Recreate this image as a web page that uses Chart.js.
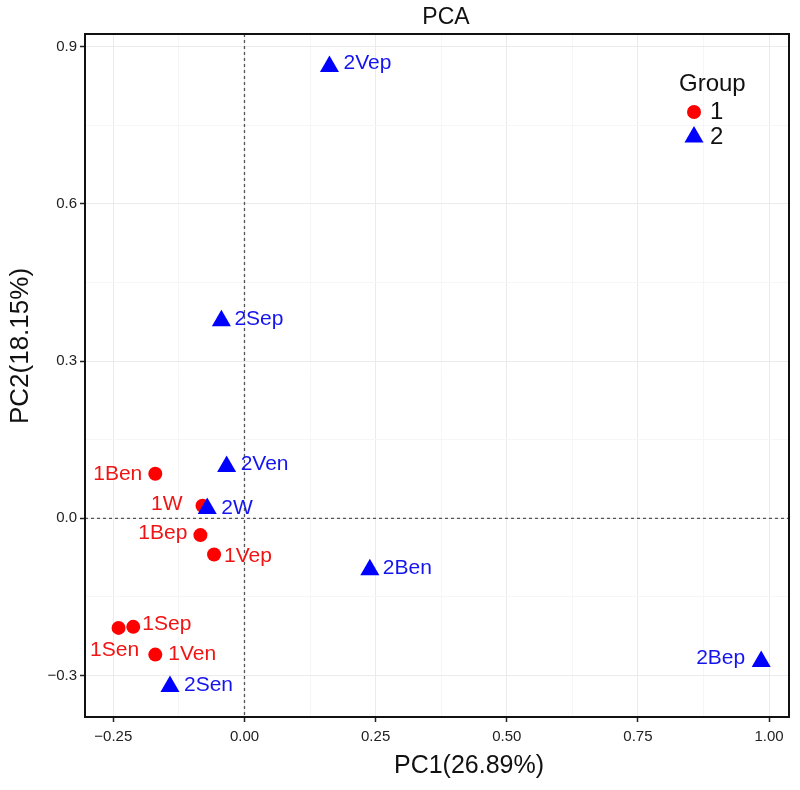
<!DOCTYPE html>
<html>
<head>
<meta charset="utf-8">
<script src="https://cdn.jsdelivr.net/npm/chart.js@4"></script>
<style>
  html, body { margin: 0; padding: 0; background: #fff; }
  #pca { display: block; }
</style>
</head>
<body>
<canvas id="pca" width="800" height="790"></canvas>
<script>
// sample scores
const group1Names = ['1Ben', '1W', '1Bep', '1Vep', '1Sen', '1Sep', '1Ven'];
const group1PC1 = [-0.170, -0.080, -0.084, -0.058, -0.240, -0.212, -0.170];
const group1PC2 = [0.085, 0.024, -0.032, -0.069, -0.209, -0.207, -0.260];

const group2Names = ['2Vep', '2Sep', '2Ven', '2W', '2Ben', '2Sen', '2Bep'];
const group2PC1 = [0.162, -0.044, -0.034, -0.071, 0.239, -0.142, 0.985];
const group2PC2 = [0.862, 0.377, 0.099, 0.019, -0.098, -0.321, -0.273];

const xTickValues = [-0.25, 0, 0.25, 0.5, 0.75, 1.0];
const xTickLabels = ['\u22120.25', '0.00', '0.25', '0.50', '0.75', '1.00'];
const yTickValues = [-0.3, 0, 0.3, 0.6, 0.9];
const yTickLabels = ['\u22120.3', '0.0', '0.3', '0.6', '0.9'];

const FONT = '"Liberation Sans", Arial, sans-serif';

// where each sample label sits relative to its point
const labelPlacement = {
    '1Ben': { dx: -13, dy: 0, align: 'right' },
    '1W':   { dx: -20, dy: -2, align: 'right' },
    '1Bep': { dx: -13, dy: -2, align: 'right' },
    '1Vep': { dx: 10, dy: 2, align: 'left' },
    '1Sen': { dx: -4, dy: 22, align: 'center' },
    '1Sep': { dx: 9, dy: -3, align: 'left' },
    '1Ven': { dx: 13, dy: 0, align: 'left' },
    '2Vep': { dx: 14, dy: -3, align: 'left' },
    '2Sep': { dx: 13, dy: -2, align: 'left' },
    '2Ven': { dx: 14, dy: -2, align: 'left' },
    '2W':   { dx: 14, dy: 0, align: 'left' },
    '2Ben': { dx: 13, dy: -2, align: 'left' },
    '2Sen': { dx: 14, dy: -1, align: 'left' },
    '2Bep': { dx: -16, dy: -3, align: 'right' }
};

function toPoints(xs, ys) {
    return xs.map((x, i) => ({ x: x, y: ys[i] }));
}

// majors plus the midpoints between them (ggplot style minor grid)
function withMinor(majors, min, max) {
    const step = majors[1] - majors[0];
    const all = [];
    for (let v = majors[0] - step / 2; v <= max + 1e-9; v += step / 2) {
        if (v >= min - 1e-9) all.push(+v.toFixed(4));
    }
    return all;
}

function isMajor(value, majors) {
    return majors.some(m => Math.abs(m - value) < 1e-6);
}

function majorLabel(value, majors, labels) {
    const i = majors.findIndex(m => Math.abs(m - value) < 1e-6);
    return i >= 0 ? labels[i] : '';
}

const annotate = {
    id: 'annotate',
    beforeDatasetsDraw(chart) {
        const { ctx, chartArea, scales } = chart;
        const x0 = scales.x.getPixelForValue(0);
        const y0 = scales.y.getPixelForValue(0);
        ctx.save();
        ctx.strokeStyle = '#555';
        ctx.lineWidth = 1.3;
        ctx.setLineDash([3, 3]);
        ctx.beginPath();
        ctx.moveTo(x0, chartArea.top);
        ctx.lineTo(x0, chartArea.bottom);
        ctx.moveTo(chartArea.left, y0);
        ctx.lineTo(chartArea.right, y0);
        ctx.stroke();
        ctx.restore();
    },
    afterDatasetsDraw(chart) {
        const ctx = chart.ctx;
        ctx.save();
        ctx.font = '21px ' + FONT;
        ctx.textBaseline = 'middle';
        chart.data.datasets.forEach((ds, i) => {
            const meta = chart.getDatasetMeta(i);
            ctx.fillStyle = ds.labelColor;
            meta.data.forEach((pt, j) => {
                const name = ds.names[j];
                const p = labelPlacement[name] || { dx: 12, dy: 0, align: 'left' };
                ctx.textAlign = p.align;
                ctx.fillText(name, pt.x + p.dx, pt.y + p.dy);
            });
        });
        ctx.restore();
    },
    afterDraw(chart) {
        const { ctx, chartArea } = chart;
        ctx.save();

        // panel border
        ctx.strokeStyle = '#111';
        ctx.lineWidth = 2;
        ctx.strokeRect(chartArea.left, chartArea.top,
            chartArea.right - chartArea.left, chartArea.bottom - chartArea.top);

        // title + axis titles
        ctx.fillStyle = '#111';
        ctx.textAlign = 'center';
        ctx.textBaseline = 'middle';
        ctx.font = '23px ' + FONT;
        ctx.fillText('PCA', 446, 18);
        ctx.font = '25px ' + FONT;
        ctx.fillText('PC1(26.89%)', 469, 766);
        ctx.font = '26px ' + FONT;
        ctx.translate(21, 346);
        ctx.rotate(-Math.PI / 2);
        ctx.fillText('PC2(18.15%)', 0, 0);
        ctx.restore();

        // legend inside the panel
        ctx.save();
        ctx.fillStyle = '#111';
        ctx.textBaseline = 'middle';
        ctx.textAlign = 'left';
        ctx.font = '24px ' + FONT;
        ctx.fillText('Group', 679, 84);
        const sorted = chart.data.datasets.slice().sort((a, b) => a.legendRank - b.legendRank);
        sorted.forEach((ds, k) => {
            const y = 112 + k * 25;
            ctx.fillStyle = ds.backgroundColor;
            ctx.strokeStyle = ds.backgroundColor;
            Chart.helpers.drawPoint(ctx, {
                pointStyle: ds.pointStyle,
                radius: ds.pointRadius,
                rotation: 0,
                borderWidth: 0
            }, 694, y);
            ctx.fillStyle = '#111';
            ctx.fillText(ds.label, 710, y);
        });
        ctx.restore();
    }
};

const ctx = document.getElementById('pca').getContext('2d');
new Chart(ctx, {
    type: 'scatter',
    data: {
        datasets: [
            {
                label: '1',
                names: group1Names,
                data: toPoints(group1PC1, group1PC2),
                backgroundColor: '#ff0000',
                borderColor: '#ff0000',
                borderWidth: 0,
                labelColor: '#f01414',
                pointStyle: 'circle',
                pointRadius: 7,
                legendRank: 0,
                order: 1
            },
            {
                label: '2',
                names: group2Names,
                data: toPoints(group2PC1, group2PC2),
                backgroundColor: '#0000ff',
                borderColor: '#0000ff',
                borderWidth: 0,
                labelColor: '#1414f0',
                pointStyle: 'triangle',
                pointRadius: 11,
                legendRank: 1,
                order: 0
            }
        ]
    },
    options: {
        responsive: false,
        animation: false,
        devicePixelRatio: 1,
        layout: { padding: { top: 34, right: 9, left: 0, bottom: 0 } },
        plugins: {
            legend: { display: false },
            title: { display: false },
            tooltip: { enabled: false }
        },
        scales: {
            x: {
                type: 'linear',
                min: -0.304,
                max: 1.038,
                afterBuildTicks: scale => {
                    scale.ticks = withMinor(xTickValues, scale.min, scale.max).map(v => ({ value: v }));
                },
                afterFit: scale => { scale.height = 73; },
                border: { display: false },
                grid: {
                    color: c => isMajor(c.tick.value, xTickValues) ? '#ebebeb' : '#f6f6f6',
                    tickColor: c => isMajor(c.tick.value, xTickValues) ? '#222' : 'rgba(0,0,0,0)',
                    lineWidth: 1,
                    tickWidth: 1.5,
                    tickLength: 5
                },
                ticks: {
                    autoSkip: false,
                    maxRotation: 0,
                    padding: 6,
                    color: '#222',
                    font: { family: FONT, size: 15 },
                    callback: v => majorLabel(v, xTickValues, xTickLabels)
                }
            },
            y: {
                type: 'linear',
                min: -0.379,
                max: 0.924,
                afterBuildTicks: scale => {
                    scale.ticks = withMinor(yTickValues, scale.min, scale.max).map(v => ({ value: v }));
                },
                afterFit: scale => { scale.width = 85; },
                border: { display: false },
                grid: {
                    color: c => isMajor(c.tick.value, yTickValues) ? '#ebebeb' : '#f6f6f6',
                    tickColor: c => isMajor(c.tick.value, yTickValues) ? '#222' : 'rgba(0,0,0,0)',
                    lineWidth: 1,
                    tickWidth: 1.5,
                    tickLength: 5
                },
                ticks: {
                    autoSkip: false,
                    padding: 3,
                    color: '#222',
                    font: { family: FONT, size: 15 },
                    callback: v => majorLabel(v, yTickValues, yTickLabels)
                }
            }
        }
    },
    plugins: [annotate]
});
</script>
</body>
</html>
